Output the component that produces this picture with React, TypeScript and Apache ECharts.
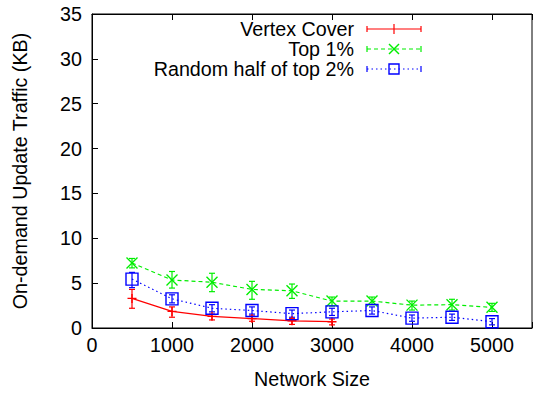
import React, { useEffect, useRef } from "react";
import * as echarts from "echarts";

const sizes = [500, 1000, 1500, 2000, 2500, 3000, 3500, 4000, 4500, 5000];

const vcMean = [3.3, 1.85, 1.3, 1.05, 0.8, 0.7];
const vcLow = [2.2, 1.2, 0.9, 0.75, 0.4, 0.35];
const vcHigh = [4.3, 2.35, 1.55, 1.35, 1.05, 1.0];

const t1Mean = [7.25, 5.35, 5.1, 4.3, 4.15, 3.0, 3.0, 2.55, 2.6, 2.3];
const t1Low = [6.7, 4.45, 4.05, 3.2, 3.3, 2.45, 2.6, 2.0, 2.0, 1.85];
const t1High = [7.75, 6.3, 6.1, 5.2, 4.9, 3.45, 3.45, 3.0, 3.2, 2.75];

const rhMean = [5.45, 3.25, 2.2, 1.95, 1.6, 1.8, 1.95, 1.1, 1.2, 0.7];
const rhLow = [4.5, 2.8, 1.8, 1.55, 1.2, 1.4, 1.55, 0.75, 0.85, 0.35];
const rhHigh = [6.2, 3.7, 2.6, 2.35, 2.0, 2.2, 2.35, 1.45, 1.55, 1.05];

const seriesNames = ["Vertex Cover", "Top 1%", "Random half of top 2%"];
const colors = ["#ff0000", "#00ee00", "#0000ff"];
const lineTypes: any[] = ["solid", [4, 3], [1.5, 3]];

const yTicks = [0, 5, 10, 15, 20, 25, 30, 35];

const FONT = "Liberation Sans, Arial, Helvetica, sans-serif";
const FS = 19.7;

const plusPath = "path://M0,5L10,5M5,0L5,10";
const crossPath = "path://M0,0L10,10M10,0L0,10";

function errSeries(name: string, color: string, low: number[], high: number[]) {
  const data = low.map((l, i) => [sizes[i], l, high[i]]);
  return {
    type: "custom",
    name: name + "-err",
    silent: true,
    z: 3,
    encode: { x: 0, y: [1, 2] },
    renderItem: (params: any, api: any) => {
      const x = api.value(0);
      const lo = api.coord([x, api.value(1)]);
      const hi = api.coord([x, api.value(2)]);
      const c = 3;
      const style = { stroke: color, lineWidth: 1.2 };
      return {
        type: "group",
        children: [
          { type: "line", shape: { x1: lo[0], y1: lo[1], x2: hi[0], y2: hi[1] }, style },
          { type: "line", shape: { x1: lo[0] - c, y1: lo[1], x2: lo[0] + c, y2: lo[1] }, style },
          { type: "line", shape: { x1: hi[0] - c, y1: hi[1], x2: hi[0] + c, y2: hi[1] }, style },
        ],
      };
    },
    data,
  };
}

function lineSeries(i: number, mean: number[], symbol: string, size: number) {
  return {
    type: "line",
    name: seriesNames[i],
    data: mean.map((v, k) => [sizes[k], v]),
    symbol,
    symbolSize: size,
    showAllSymbol: true,
    z: 4,
    lineStyle: { color: colors[i], width: 1.2, type: lineTypes[i] },
    itemStyle: { color: "none", borderColor: colors[i], borderWidth: 1.4 },
  };
}

export default function App() {
  const ref = useRef<HTMLDivElement>(null);
  useEffect(() => {
    document.body.style.margin = "0";
    const chart = echarts.init(ref.current!, null, { renderer: "svg" });

    const legendRows = seriesNames.map((n, i) => {
      const y = 29 + i * 20;
      const st = { stroke: colors[i], lineWidth: 1.2, lineDash: i === 0 ? null : lineTypes[i] };
      const cap = { stroke: colors[i], lineWidth: 1.2 };
      const markers: any[] = [];
      if (i === 0) {
        markers.push({ type: "line", shape: { x1: 394, y1: y - 5, x2: 394, y2: y + 5 }, style: cap });
      } else if (i === 1) {
        markers.push({ type: "line", shape: { x1: 389, y1: y - 5, x2: 399, y2: y + 5 }, style: { stroke: colors[i], lineWidth: 1.4 } });
        markers.push({ type: "line", shape: { x1: 399, y1: y - 5, x2: 389, y2: y + 5 }, style: { stroke: colors[i], lineWidth: 1.4 } });
      } else {
        markers.push({ type: "rect", shape: { x: 389, y: y - 5, width: 10, height: 10 }, style: { fill: "none", stroke: colors[i], lineWidth: 1.4 } });
      }
      return {
        type: "group",
        children: [
          { type: "text", x: 354, y, style: { text: n, font: `${FS}px ${FONT}`, fill: "#000", align: "right", verticalAlign: "middle" } },
          { type: "line", shape: { x1: 367, y1: y, x2: 421, y2: y }, style: st },
          { type: "line", shape: { x1: 367, y1: y - 3, x2: 367, y2: y + 3 }, style: cap },
          { type: "line", shape: { x1: 421, y1: y - 3, x2: 421, y2: y + 3 }, style: cap },
          ...markers,
        ],
      };
    });

    chart.setOption({
      animation: false,
      backgroundColor: "#fff",
      textStyle: { fontFamily: FONT },
      grid: { left: 92, top: 14, width: 448, height: 314, show: true, borderColor: "#000", borderWidth: 1 },
      xAxis: [
        {
          type: "value",
          min: 0,
          max: 5500,
          interval: 1000,
          name: "Network Size",
          nameLocation: "middle",
          nameGap: 41,
          nameTextStyle: { fontSize: FS, color: "#000", fontFamily: FONT },
          axisLine: { lineStyle: { color: "#000" } },
          axisTick: { inside: true, length: 6, lineStyle: { color: "#000" } },
          axisLabel: { fontSize: FS, color: "#000", margin: 7, fontFamily: FONT, formatter: (v: number) => (v > 5000 ? "" : String(v)) },
          splitLine: { show: false },
        },
        {
          type: "value",
          position: "top",
          min: 0,
          max: 5500,
          interval: 1000,
          axisLine: { lineStyle: { color: "#000" } },
          axisTick: { inside: true, length: 6, lineStyle: { color: "#000" } },
          axisLabel: { show: false },
          splitLine: { show: false },
        },
      ],
      yAxis: {
        type: "value",
        min: yTicks[0],
        max: yTicks[yTicks.length - 1],
        interval: 5,
        name: "On-demand Update Traffic (KB)",
        nameLocation: "middle",
        nameGap: 62,
        nameTextStyle: { fontSize: FS, color: "#000", fontFamily: FONT },
        axisLine: { lineStyle: { color: "#000" } },
        axisTick: { inside: true, length: 6, lineStyle: { color: "#000" } },
        axisLabel: { fontSize: FS, color: "#000", margin: 10, fontFamily: FONT },
        splitLine: { show: false },
      },
      graphic: legendRows,
      series: [
        errSeries("vc", colors[0], vcLow, vcHigh),
        errSeries("t1", colors[1], t1Low, t1High),
        errSeries("rh", colors[2], rhLow, rhHigh),
        lineSeries(0, vcMean, plusPath, 9),
        lineSeries(1, t1Mean, crossPath, 11),
        lineSeries(2, rhMean, "rect", 12),
      ],
    });
    return () => chart.dispose();
  }, []);
  return <div ref={ref} style={{ width: 535, height: 395, position: "fixed", left: 0, top: 0 }} />;
}
